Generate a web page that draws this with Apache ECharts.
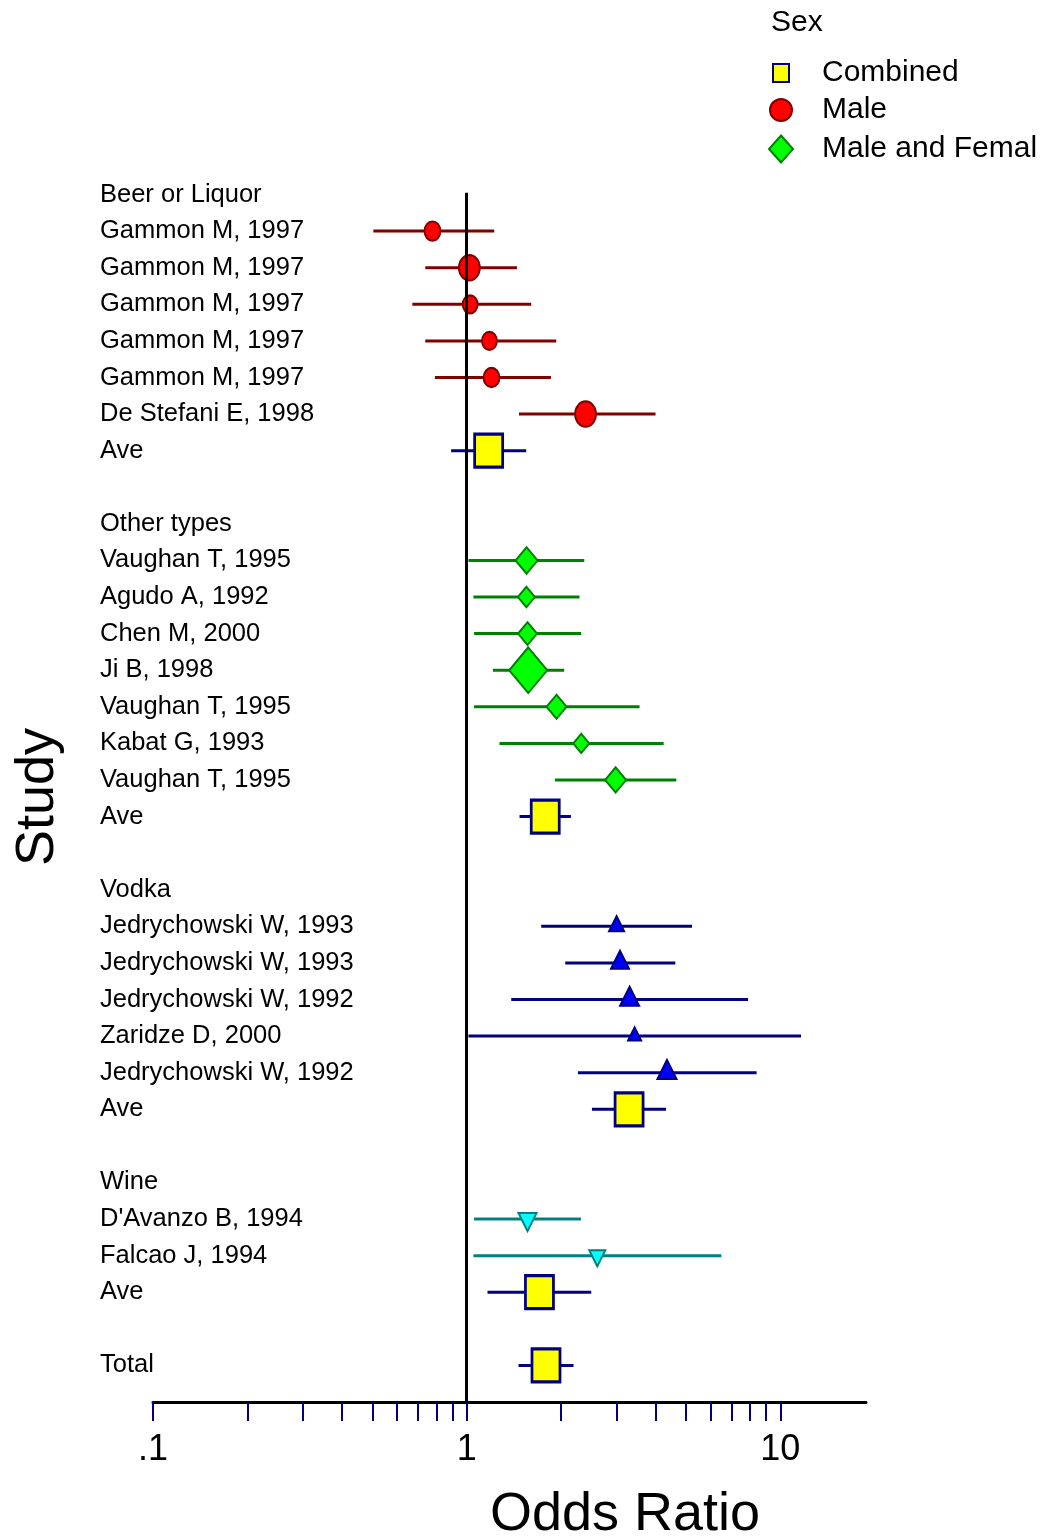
<!DOCTYPE html>
<html><head><meta charset="utf-8">
<script src="https://cdn.jsdelivr.net/npm/echarts@6/dist/echarts.min.js"></script>
<style>html,body{margin:0;padding:0;background:#fff}#chart{width:1051px;height:1537px}</style>
</head><body><div id="chart"></div>
<script>
// ---------- DATA ----------
const rowLabels = [
  'Beer or Liquor',
  'Gammon M, 1997','Gammon M, 1997','Gammon M, 1997','Gammon M, 1997','Gammon M, 1997',
  'De Stefani E, 1998','Ave','',
  'Other types',
  'Vaughan T, 1995','Agudo A, 1992','Chen M, 2000','Ji B, 1998','Vaughan T, 1995','Kabat G, 1993','Vaughan T, 1995',
  'Ave','',
  'Vodka',
  'Jedrychowski W, 1993','Jedrychowski W, 1993','Jedrychowski W, 1992','Zaridze D, 2000','Jedrychowski W, 1992',
  'Ave','',
  'Wine',
  "D'Avanzo B, 1994",'Falcao J, 1994',
  'Ave','',
  'Total'
];

// Male (Beer or Liquor)
const maleRows = [1, 2, 3, 4, 5, 6];
const maleOR   = [0.778, 1.02, 1.026, 1.182, 1.20, 2.393];
const maleLo   = [0.504, 0.738, 0.671, 0.738, 0.792, 1.468];
const maleHi   = [1.224, 1.446, 1.606, 1.93, 1.856, 4.0];
const maleWeight = [16, 21, 15, 15, 16, 21];

// Male and Female (Other types)
const mfRows = [10, 11, 12, 13, 14, 15, 16];
const mfOR   = [1.552, 1.55, 1.563, 1.571, 1.934, 2.318, 2.984];
const mfLo   = [1.013, 1.051, 1.056, 1.212, 1.056, 1.272, 1.911];
const mfHi   = [2.371, 2.29, 2.318, 2.046, 3.557, 4.245, 4.66];
const mfWeight = [22, 17, 19, 38, 20, 16, 21];

// Vodka studies
const vodkaRows = [20, 21, 22, 23, 24];
const vodkaOR   = [3.005, 3.082, 3.307, 3.43, 4.35];
const vodkaLo   = [1.728, 2.062, 1.387, 1.013, 2.263];
const vodkaHi   = [5.228, 4.626, 7.89, 11.64, 8.4];
const vodkaWeight = [15, 18, 19, 13, 19];

// Wine studies
const wineRows = [28, 29];
const wineOR   = [1.563, 2.608];
const wineLo   = [1.056, 1.051];
const wineHi   = [2.313, 6.484];
const wineWeight = [18, 16];

// Combined averages and total
const aveRows = [7, 17, 25, 30, 32];
const aveOR   = [1.175, 1.78, 3.294, 1.706, 1.79];
const aveLo   = [0.892, 1.474, 2.508, 1.165, 1.463];
const aveHi   = [1.548, 2.149, 4.32, 2.495, 2.191];

// Axis ticks
const majorTicks = [0.1, 1, 10];
const tickLabels = ['.1', '1', '10'];
const minorTicks = [0.2,0.3,0.4,0.5,0.6,0.7,0.8,0.9,2,3,4,5,6,7,8,9];
const axisMaxOR = 18.75;

// ---------- CHART ----------
const L = Math.log10;
const FONT = "'Liberation Sans', Arial, sans-serif";
const ELLIPSE = 'path://M0,-1 C0.5523,-1 1,-0.5523 1,0 C1,0.5523 0.5523,1 0,1 C-0.5523,1 -1,0.5523 -1,0 C-1,-0.5523 -0.5523,-1 0,-1 Z';

function ciData(lo, hi, rows) { return rows.map((r, i) => [L(lo[i]), L(hi[i]), r]); }
function ptData(or, rows) { return rows.map((r, i) => [L(or[i]), r]); }
function ciSeries(name, lo, hi, rows, color) {
  return {
    type: 'custom', name: name, z: 2, silent: true,
    encode: { x: [0, 1], y: 2 },
    data: ciData(lo, hi, rows),
    renderItem: function (params, api) {
      const p1 = api.coord([api.value(0), api.value(2)]);
      const p2 = api.coord([api.value(1), api.value(2)]);
      return { type: 'line', shape: { x1: p1[0], y1: p1[1], x2: p2[0], y2: p2[1] },
               style: { stroke: color, lineWidth: 3 } };
    }
  };
}

const chart = echarts.init(document.getElementById('chart'), null, { renderer: 'canvas' });
const option = {
  animation: false,
  backgroundColor: '#ffffff',
  textStyle: { fontFamily: FONT },
  grid: { left: 153, right: 1051 - 866, top: 192.7, bottom: 1537 - 1402, containLabel: false },
  xAxis: {
    type: 'value', min: -1, max: L(axisMaxOR),
    splitLine: { show: false },
    axisLine: { show: true, onZero: false, lineStyle: { color: '#000000', width: 3 } },
    axisTick: { show: true, inside: false, length: 19, customValues: majorTicks.concat(minorTicks).map(L),
                lineStyle: { color: '#000080', width: 2 } },
    axisLabel: { show: true, customValues: majorTicks.map(L), margin: 30,
                 fontSize: 36, color: '#000000', fontFamily: FONT,
                 formatter: function (v) { return tickLabels[Math.round(v) + 1]; } }
  },
  yAxis: {
    type: 'value', inverse: true, min: -0.05, max: 33,
    splitLine: { show: false },
    axisLine: { show: false }, axisTick: { show: false },
    axisLabel: { show: true, customValues: rowLabels.map((_, i) => i), align: 'left', margin: 53,
                 fontSize: 25.5, color: '#000000', fontFamily: FONT, padding: [7, 0, 0, 0],
                 formatter: function (v) { return rowLabels[Math.round(v)] || ''; } }
  },
  legend: [
    { data: [{ name: 'Combined', icon: 'rect' }], left: 772, top: 58, padding: 0, itemWidth: 16, itemHeight: 18,
      selectedMode: false, textStyle: { fontSize: 30, color: '#000', fontFamily: FONT, padding: [0, 0, 0, 28] } },
    { data: [{ name: 'Male', icon: 'circle' }], left: 769, top: 95, padding: 0, itemWidth: 22, itemHeight: 23,
      selectedMode: false, textStyle: { fontSize: 30, color: '#000', fontFamily: FONT, padding: [0, 0, 0, 25] } },
    { data: [{ name: 'Male and Femal', icon: 'diamond' }], left: 768, top: 134, padding: 0, itemWidth: 24, itemHeight: 27,
      selectedMode: false, textStyle: { fontSize: 30, color: '#000', fontFamily: FONT, padding: [0, 0, 0, 24] } }
  ],
  graphic: [
    { type: 'text', left: 771, top: 8, style: { text: 'Sex', font: "30px " + FONT, fill: '#000' } },
    { type: 'text', x: 38, y: 797, rotation: Math.PI / 2,
      style: { text: 'Study', font: "54px " + FONT, fill: '#000', textAlign: 'center', textVerticalAlign: 'middle' } },
    { type: 'text', x: 625, y: 1515,
      style: { text: 'Odds Ratio', font: "54px " + FONT, fill: '#000', textAlign: 'center', textVerticalAlign: 'middle' } }
  ],
  series: [
    ciSeries('Male CI', maleLo, maleHi, maleRows, '#800000'),
    ciSeries('Male and Femal CI', mfLo, mfHi, mfRows, '#008000'),
    ciSeries('Vodka CI', vodkaLo, vodkaHi, vodkaRows, '#000080'),
    ciSeries('Wine CI', wineLo, wineHi, wineRows, '#008080'),
    ciSeries('Combined CI', aveLo, aveHi, aveRows, '#000080'),
    {
      type: 'line', name: 'Reference', data: [], z: 3, silent: true,
      markLine: { silent: true, symbol: ['none', 'none'], label: { show: false },
                  lineStyle: { color: '#000000', width: 3, type: 'solid' },
                  data: [{ xAxis: 0 }] }
    },
    {
      type: 'scatter', name: 'Male', z: 4, symbol: ELLIPSE,
      data: ptData(maleOR, maleRows),
      symbolSize: function (v, p) { const w = maleWeight[p.dataIndex]; return [w, w * 1.2]; },
      itemStyle: { color: '#FF0000', borderColor: '#800000', borderWidth: 2, opacity: 1 }
    },
    {
      type: 'scatter', name: 'Male and Femal', z: 4, symbol: 'diamond',
      data: ptData(mfOR, mfRows),
      symbolSize: function (v, p) { const w = mfWeight[p.dataIndex]; return [w, w * 1.2]; },
      itemStyle: { color: '#00FF00', borderColor: '#008000', borderWidth: 2, opacity: 1 }
    },
    {
      type: 'scatter', name: 'Vodka', z: 4, symbol: 'triangle',
      data: ptData(vodkaOR, vodkaRows),
      symbolSize: function (v, p) { const w = vodkaWeight[p.dataIndex]; return [w, w]; },
      symbolOffset: [0, '-17%'],
      itemStyle: { color: '#0000FF', borderColor: '#000080', borderWidth: 2, opacity: 1 }
    },
    {
      type: 'scatter', name: 'Wine', z: 4, symbol: 'triangle', symbolRotate: 180,
      data: ptData(wineOR, wineRows),
      symbolSize: function (v, p) { const w = wineWeight[p.dataIndex]; return [w, w]; },
      symbolOffset: [0, '17%'],
      itemStyle: { color: '#00FFFF', borderColor: '#008080', borderWidth: 2, opacity: 1 }
    },
    {
      type: 'scatter', name: 'Combined', z: 4, symbol: 'rect',
      data: ptData(aveOR, aveRows),
      symbolSize: [28, 33],
      itemStyle: { color: '#FFFF00', borderColor: '#000080', borderWidth: 3, opacity: 1 }
    }
  ]
};
chart.setOption(option);
</script></body></html>
